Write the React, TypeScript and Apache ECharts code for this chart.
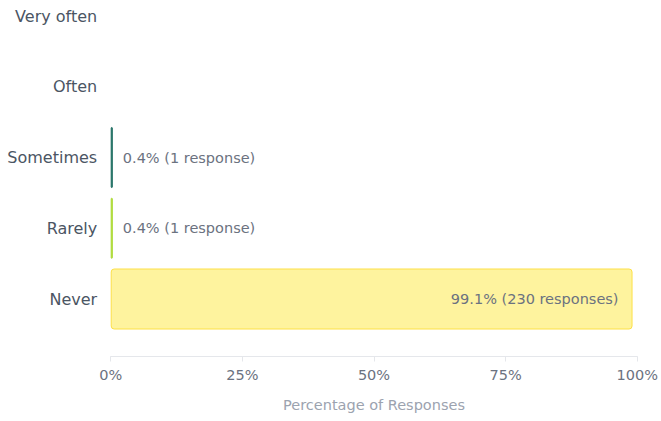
import React, { useEffect, useRef } from "react";
import * as echarts from "echarts";

const categories = ["Very often", "Often", "Sometimes", "Rarely", "Never"];
const percentages = [0, 0, 0.4, 0.4, 99.1];
const responses = [0, 0, 1, 1, 230];
const fillColors = ["#2a8a7a", "#2a8a7a", "#2a8a7a", "#c5e84a", "#fef39e"];
const borderColors = ["#1d6b5f", "#1d6b5f", "#1d6b5f", "#a8d830", "#fde047"];
const xTicks = [0, 25, 50, 75, 100];

export default function App() {
  const ref = useRef<HTMLDivElement>(null);
  useEffect(() => {
    if (!ref.current) return;
    const chart = echarts.init(ref.current, null, { renderer: "svg" });
    const font = "DejaVu Sans";
    const data = percentages.map((v, i) => {
      const big = v > 50;
      return {
        value: v,
        itemStyle: {
          color: fillColors[i],
          borderColor: borderColors[i],
          borderWidth: v > 0 ? 1 : 0,
          borderRadius: 3,
          opacity: v > 0 ? 1 : 0,
        },
        label: {
          show: v > 0,
          position: big ? "insideRight" : "right",
          distance: big ? 14 : 10,
          formatter: `${v}% (${responses[i]} ${responses[i] === 1 ? "response" : "responses"})`,
          color: "#6b7280",
          fontSize: 14.5,
          fontFamily: font,
        },
      };
    });
    chart.setOption({
      animation: false,
      grid: { left: 110.7, right: 22.3, top: 16, bottom: 122, containLabel: false },
      xAxis: {
        type: "value",
        min: xTicks[0],
        max: xTicks[xTicks.length - 1],
        interval: 25,
        offset: 57.5,
        axisLine: { show: true, lineStyle: { color: "#e5e7eb", width: 1 } },
        axisTick: { show: true, length: 5, lineStyle: { color: "#e5e7eb" } },
        splitLine: { show: false },
        axisLabel: {
          formatter: "{value}%",
          color: "#6b7280",
          fontSize: 14.5,
          fontFamily: font,
          margin: 11,
        },
        name: "Percentage of Responses",
        nameLocation: "middle",
        nameGap: 41,
        nameTextStyle: { color: "#9ca3af", fontSize: 14.5, fontFamily: font },
      },
      yAxis: {
        type: "category",
        data: categories,
        inverse: true,
        boundaryGap: false,
        axisLine: { show: false },
        axisTick: { show: false },
        splitLine: { show: false },
        axisLabel: { color: "#4b5563", fontSize: 16, fontFamily: font, margin: 13.5 },
      },
      series: [
        {
          type: "bar",
          data,
          barWidth: 61,
        },
      ],
    });
    return () => chart.dispose();
  }, []);
  return <div ref={ref} style={{ width: 661, height: 421, position: "absolute", left: 0, top: 0 }} />;
}
